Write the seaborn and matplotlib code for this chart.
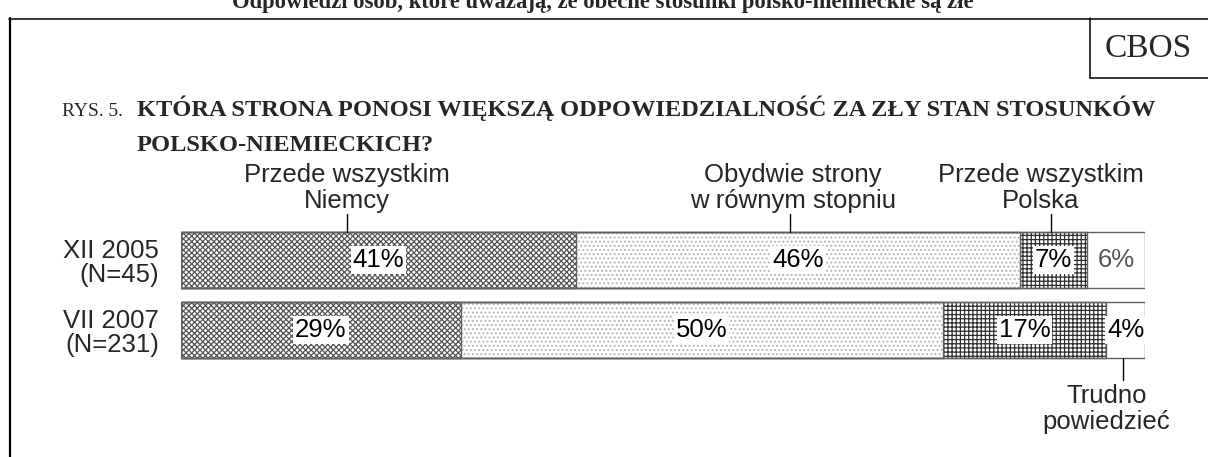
import matplotlib
matplotlib.use('Agg')
import matplotlib.pyplot as plt
import seaborn as sns
import pandas as pd
from matplotlib.lines import Line2D

# dane
periods = ['XII 2005\n(N=45)', 'VII 2007\n(N=231)']
niemcy = [41, 29]
obydwie = [46, 50]
polska = [7, 17]
trudno = [6, 4]
answers = ['Przede wszystkim\nNiemcy', 'Obydwie strony\nw równym stopniu',
           'Przede wszystkim\nPolska', 'Trudno\npowiedzieć']

df = pd.DataFrame({'okres': periods, 'niemcy': niemcy, 'obydwie': obydwie,
                   'polska': polska, 'trudno': trudno})
cols = ['niemcy', 'obydwie', 'polska', 'trudno']
cum = df[cols].cumsum(axis=1)
for c in cols:
    df['cum_' + c] = cum[c]

sns.set_theme(style='white')
plt.rcParams['font.family'] = ['Liberation Sans', 'DejaVu Sans']
plt.rcParams['hatch.linewidth'] = 0.9

W, H = 1208, 457
fig = plt.figure(figsize=(W / 100, H / 100), dpi=100)
ax = fig.add_axes([181 / W, (H - 365) / H, 964 / W, 140 / H])

# wzory segmentów: (kolumna, hatch, kolor hatcha)
styles = [('trudno', '', 'white'),
          ('polska', '++++', '#303030'),
          ('obydwie', '....', '#b4b4b4'),
          ('niemcy', 'xxxxxx', '#555555')]

for c, hatch, hcol in styles:
    sns.barplot(data=df, x='cum_' + c, y='okres', orient='h', color='white',
                saturation=1, hatch=hatch, edgecolor=hcol, linewidth=0,
                width=0.8, ax=ax)
for c, hatch, hcol in styles:
    sns.barplot(data=df, x='cum_' + c, y='okres', orient='h', color='#606060',
                fill=False, linewidth=1, width=0.8, ax=ax)

ax.set_xlim(0, 100)
ax.set_ylim(1.5, -0.5)
ax.set_xlabel('')
ax.set_ylabel('')
ax.set_xticks([])
sns.despine(ax=ax, left=True, bottom=True)
ax.tick_params(axis='y', length=0, pad=16, labelsize=18.5)
for t in ax.get_yticklabels():
    t.set_linespacing(1.05)

# etykiety procentowe
for i in range(len(periods)):
    start = 0
    for c in cols:
        v = df.loc[i, c]
        col = '#555555' if (c == 'trudno' and i == 0) else 'black'
        ax.text(start + v / 2, i, f'{v}%', ha='center', va='center',
                fontsize=18.5, color=col,
                bbox=dict(boxstyle='square,pad=0.08', fc='white', ec='none'))
        start += v

# opisy kategorii z kreskami
def py(p):
    return (p - 225) / 70 - 0.5

label_pos = [(17.2, 17.2, 'top'), (63.2, 63.5, 'top'), (90.2, 89.2, 'top'),
             (97.7, 96.0, 'bottom')]
for (lx, tx, side), txt in zip(label_pos, answers):
    if side == 'top':
        ax.plot([lx, lx], [py(214), py(232)], color='black', lw=1, clip_on=False)
        ax.text(tx, py(208), txt, ha='center', va='baseline', fontsize=18.5,
                linespacing=1.11)
    else:
        ax.plot([lx, lx], [py(358), py(380)], color='black', lw=1, clip_on=False)
        ax.text(tx, py(429), txt, ha='center', va='baseline', fontsize=18.5,
                linespacing=1.11)

# ramka i nagłówki
serif = ['Liberation Serif', 'DejaVu Serif']
fig.add_artist(Line2D([9.5 / W, 9.5 / W], [0, 1 - 18 / H], color='black', lw=1.6))
fig.add_artist(Line2D([9 / W, 1], [1 - 18.5 / H] * 2, color='black', lw=1.1))
fig.add_artist(Line2D([1090 / W, 1090 / W], [1 - 18 / H, 1 - 78 / H], color='black', lw=1.1))
fig.add_artist(Line2D([1090 / W, 1], [1 - 78 / H] * 2, color='black', lw=1.1))
fig.text(1148 / W, 1 - 49 / H, 'CBOS', ha='center', va='center', fontsize=24,
         family=serif)
fig.text(603 / W, 1 - 8 / H,
         'Odpowiedzi osób, które uważają, że obecne stosunki polsko-niemieckie są złe',
         ha='center', va='baseline', fontsize=16.3, fontweight='bold', family=serif)
fig.text(62 / W, 1 - 116 / H, 'RYS. 5.', ha='left', va='baseline', fontsize=14,
         family=serif)
fig.text(137 / W, 1 - 116 / H,
         'KTÓRA STRONA PONOSI WIĘKSZĄ ODPOWIEDZIALNOŚĆ ZA ZŁY STAN STOSUNKÓW',
         ha='left', va='baseline', fontsize=17.6, fontweight='bold', family=serif)
fig.text(137 / W, 1 - 151 / H, 'POLSKO-NIEMIECKICH?', ha='left', va='baseline',
         fontsize=17.6, fontweight='bold', family=serif)

fig.savefig('out.png', dpi=100)
